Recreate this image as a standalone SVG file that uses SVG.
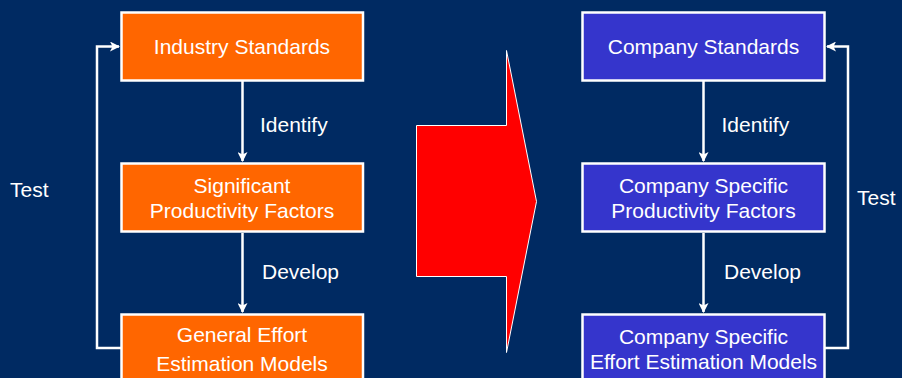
<svg xmlns="http://www.w3.org/2000/svg" width="902" height="378" viewBox="0 0 902 378">
  <style>
    .bg { fill: #002A62; }
    .box { stroke: #FFFFFF; stroke-width: 2.5; }
    .orange { fill: #FF6600; }
    .blue { fill: #3535CC; }
    .txt { font-family: "Liberation Sans", Arial, sans-serif; font-size: 21px; fill: #FFFFFF; }
    .mid { text-anchor: middle; }
    .conn { fill: none; stroke: #FFFFFF; stroke-width: 2.5; }
  </style>
  <defs>
    <marker id="head" viewBox="0 0 10 10" refX="9" refY="5" markerWidth="4" markerHeight="4" orient="auto" markerUnits="strokeWidth">
      <path d="M0,0 L10,5 L0,10 L2.5,5 Z" fill="#FFFFFF"/>
    </marker>
  </defs>

  <rect class="bg" x="0" y="0" width="902" height="378"/>

  <!-- connectors -->
  <g id="connectors">
    <line class="conn" x1="242.5" y1="81" x2="242.5" y2="161" marker-end="url(#head)"/>
    <line class="conn" x1="242.5" y1="233" x2="242.5" y2="312" marker-end="url(#head)"/>
    <polyline class="conn" points="121,348 97,348 97,46.5 119,46.5" marker-end="url(#head)"/>
    <line class="conn" x1="703.5" y1="81" x2="703.5" y2="161" marker-end="url(#head)"/>
    <line class="conn" x1="703.5" y1="233" x2="703.5" y2="312" marker-end="url(#head)"/>
    <polyline class="conn" points="825,348 848,348 848,46.5 827,46.5" marker-end="url(#head)"/>
    <text class="txt" x="260" y="131.5">Identify</text>
    <text class="txt" x="262" y="279">Develop</text>
    <text class="txt" x="10" y="196.5">Test</text>
    <text class="txt" x="721.5" y="131.5">Identify</text>
    <text class="txt" x="724" y="279">Develop</text>
    <text class="txt" x="857" y="205">Test</text>
  </g>

  <!-- left column -->
  <g id="industry-standards">
    <rect class="box orange" x="121.5" y="12.5" width="241.5" height="68"/>
    <text class="txt mid" x="242" y="54">Industry Standards</text>
  </g>
  <g id="significant-factors">
    <rect class="box orange" x="121.5" y="163.5" width="241.5" height="68"/>
    <text class="txt mid" x="242" y="192.5">Significant</text>
    <text class="txt mid" x="242" y="217.5">Productivity Factors</text>
  </g>
  <g id="general-models">
    <rect class="box orange" x="121.5" y="314.5" width="241.5" height="80"/>
    <text class="txt mid" x="242" y="342">General Effort</text>
    <text class="txt mid" x="242" y="370.5">Estimation Models</text>
  </g>

  <!-- transition arrow -->
  <g id="transition-arrow">
    <polygon points="416.5,125.5 506.5,125.5 506.5,50.5 536.5,201.5 506.5,352.5 506.5,276.5 416.5,276.5" fill="#FF0000" stroke="#FFFFFF" stroke-width="1"/>
  </g>

  <!-- right column -->
  <g id="company-standards">
    <rect class="box blue" x="582.5" y="12.5" width="242" height="68"/>
    <text class="txt mid" x="703.5" y="54">Company Standards</text>
  </g>
  <g id="company-factors">
    <rect class="box blue" x="582.5" y="163.5" width="242" height="68"/>
    <text class="txt mid" x="703.5" y="192.5">Company Specific</text>
    <text class="txt mid" x="703.5" y="217.5">Productivity Factors</text>
  </g>
  <g id="company-models">
    <rect class="box blue" x="582.5" y="314.5" width="242" height="80"/>
    <text class="txt mid" x="703.5" y="344">Company Specific</text>
    <text class="txt mid" x="703.5" y="369">Effort Estimation Models</text>
  </g>
</svg>
